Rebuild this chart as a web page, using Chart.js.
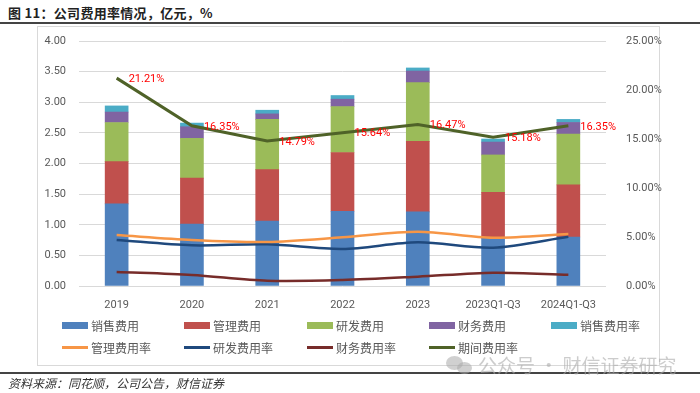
<!DOCTYPE html>
<html>
<head>
<meta charset="utf-8">
<script src="https://cdn.jsdelivr.net/npm/chart.js@4"></script>
<style>
  body { margin: 0; width: 700px; height: 393px; position: relative; background: #fff; overflow: hidden; }
  #title { position: absolute; left: 8px; top: 3px; font: bold 13px "Noto Sans CJK SC", sans-serif; letter-spacing: 0.3px; color: #222; }
  .rule { position: absolute; left: 0; width: 700px; height: 2px; background: #444; }
  #frame { position: absolute; left: 37px; top: 26px; width: 623px; height: 340px; border: 1px solid #d9d9d9; box-sizing: border-box; }
  #wrap { position: absolute; left: 0; top: 0; width: 700px; height: 393px; }
  .lg { position: absolute; display: flex; align-items: center; font: 12px "Noto Sans CJK SC", sans-serif; color: #595959; white-space: nowrap; }
  .sw { width: 26px; margin-right: 3px; }
  #source { position: absolute; left: 8px; top: 374px; font: italic 12px "Noto Sans CJK SC", sans-serif; color: #333; }
  #mark { position: absolute; left: 478px; top: 351px; font: 19px "Noto Sans CJK SC", sans-serif; color: rgba(170,170,170,0.6); white-space: nowrap; }
  .bub { position: absolute; border-radius: 50%; background: rgba(170,170,170,0.55); }
</style>
</head>
<body>
<div id="title">图 11：公司费用率情况，亿元，%</div>
<div class="rule" style="top:22px"></div>
<div id="frame"></div>
<div id="wrap"><canvas id="chart" width="700" height="393"></canvas></div>
<div class="rule" style="top:372px"></div>
<div id="source">资料来源：同花顺，公司公告，财信证券</div>
<div class="bub" style="left:446px;top:356px;width:17px;height:14px"></div>
<div class="bub" style="left:457px;top:362px;width:15px;height:12px"></div>
<div id="mark">公众号 · 财信证券研究</div>
<script>
const categories = ["2019", "2020", "2021", "2022", "2023", "2023Q1-Q3", "2024Q1-Q3"];

// 亿元 (left axis, stacked bars)
const salesExp = [1.34, 1.01, 1.06, 1.22, 1.21, 0.78, 0.80];
const adminExp = [0.69, 0.75, 0.84, 0.96, 1.15, 0.75, 0.85];
const rdExp = [0.64, 0.65, 0.82, 0.75, 0.96, 0.61, 0.83];
const finExp = [0.17, 0.19, 0.09, 0.12, 0.19, 0.21, 0.19];
const salesRate = [0.10, 0.06, 0.06, 0.06, 0.05, 0.05, 0.05];

// % (right axis, lines)
const adminRate = [5.20, 4.70, 4.50, 4.97, 5.54, 4.93, 5.30];
const rdRate = [4.70, 4.15, 4.25, 3.78, 4.46, 3.91, 5.03];
const finRate = [1.43, 1.12, 0.54, 0.61, 0.95, 1.36, 1.15];
const periodRate = [21.21, 16.35, 14.79, 15.64, 16.47, 15.18, 16.35];

const leftTicks = [0, 0.5, 1, 1.5, 2, 2.5, 3, 3.5, 4];
const rightTicks = [0, 5, 10, 15, 20, 25];

const bar = (label, data, color) => ({
  type: "bar", label, data, backgroundColor: color, yAxisID: "y",
  stack: "exp", barThickness: 23, order: 2
});
const line = (label, data, color, width, tension, order) => ({
  type: "line", label, data, borderColor: color, backgroundColor: color,
  borderWidth: width, pointRadius: 0, tension, yAxisID: "y1", order
});

const datasets = [
  bar("销售费用", salesExp, "#4f81bd"),
  bar("管理费用", adminExp, "#c0504d"),
  bar("研发费用", rdExp, "#9bbb59"),
  bar("财务费用", finExp, "#8064a2"),
  bar("销售费用率", salesRate, "#4bacc6"),
  line("管理费用率", adminRate, "#f79646", 2.5, 0.3, 1),
  line("研发费用率", rdRate, "#1f497d", 2.5, 0.3, 1),
  line("财务费用率", finRate, "#772c2a", 2.5, 0.3, 1),
  line("期间费用率", periodRate, "#4f6228", 3, 0, 0)
];

// red value labels beside the 期间费用率 points
const periodLabels = {
  id: "periodLabels",
  afterDatasetsDraw(chart) {
    const idx = chart.data.datasets.findIndex(d => d.label === "期间费用率");
    const meta = chart.getDatasetMeta(idx);
    const c = chart.ctx;
    c.save();
    c.font = "11px Roboto";
    c.fillStyle = "#ff0000";
    c.textAlign = "left";
    c.textBaseline = "middle";
    meta.data.forEach((pt, i) => {
      c.fillText(periodRate[i].toFixed(2) + "%", pt.x + 12, pt.y + 1);
    });
    c.restore();
  }
};

const tickFont = { family: "Roboto", size: 11 };

new Chart(document.getElementById("chart"), {
  data: { labels: categories, datasets },
  options: {
    responsive: false,
    animation: false,
    layout: { padding: { top: 41 } },
    plugins: { legend: { display: false }, tooltip: { enabled: false } },
    scales: {
      x: {
        stacked: true,
        grid: { display: false },
        border: { display: false },
        ticks: { color: "#595959", font: tickFont, padding: 5, maxRotation: 0 },
        afterFit: s => { s.height = 107; }
      },
      y: {
        stacked: true,
        min: 0, max: 4,
        afterBuildTicks: s => { s.ticks = leftTicks.map(v => ({ value: v })); },
        grid: { color: "#d9d9d9", drawTicks: false },
        border: { display: false },
        ticks: { color: "#595959", font: tickFont, padding: 13, callback: v => v.toFixed(2) },
        afterFit: s => { s.width = 79; }
      },
      y1: {
        position: "right",
        min: 0, max: 25,
        afterBuildTicks: s => { s.ticks = rightTicks.map(v => ({ value: v })); },
        grid: { display: false },
        border: { display: false },
        ticks: { color: "#595959", font: tickFont, padding: 12, callback: v => v.toFixed(2) + "%" },
        afterFit: s => { s.width = 94; }
      }
    }
  },
  plugins: [periodLabels]
});

// legend laid out in the reference's grid
const legendCols = [62, 184, 307, 429, 551];
const legendRows = [326, 348];
datasets.forEach((d, i) => {
  const item = document.createElement("div");
  item.className = "lg";
  item.style.left = legendCols[i % 5] + "px";
  item.style.top = (legendRows[Math.floor(i / 5)] - 9) + "px";
  const sw = document.createElement("span");
  sw.className = "sw";
  sw.style.height = d.type === "bar" ? "7px" : "3px";
  sw.style.background = d.type === "bar" ? d.backgroundColor : d.borderColor;
  item.appendChild(sw);
  item.appendChild(document.createTextNode(d.label));
  document.body.appendChild(item);
});
</script>
</body>
</html>
